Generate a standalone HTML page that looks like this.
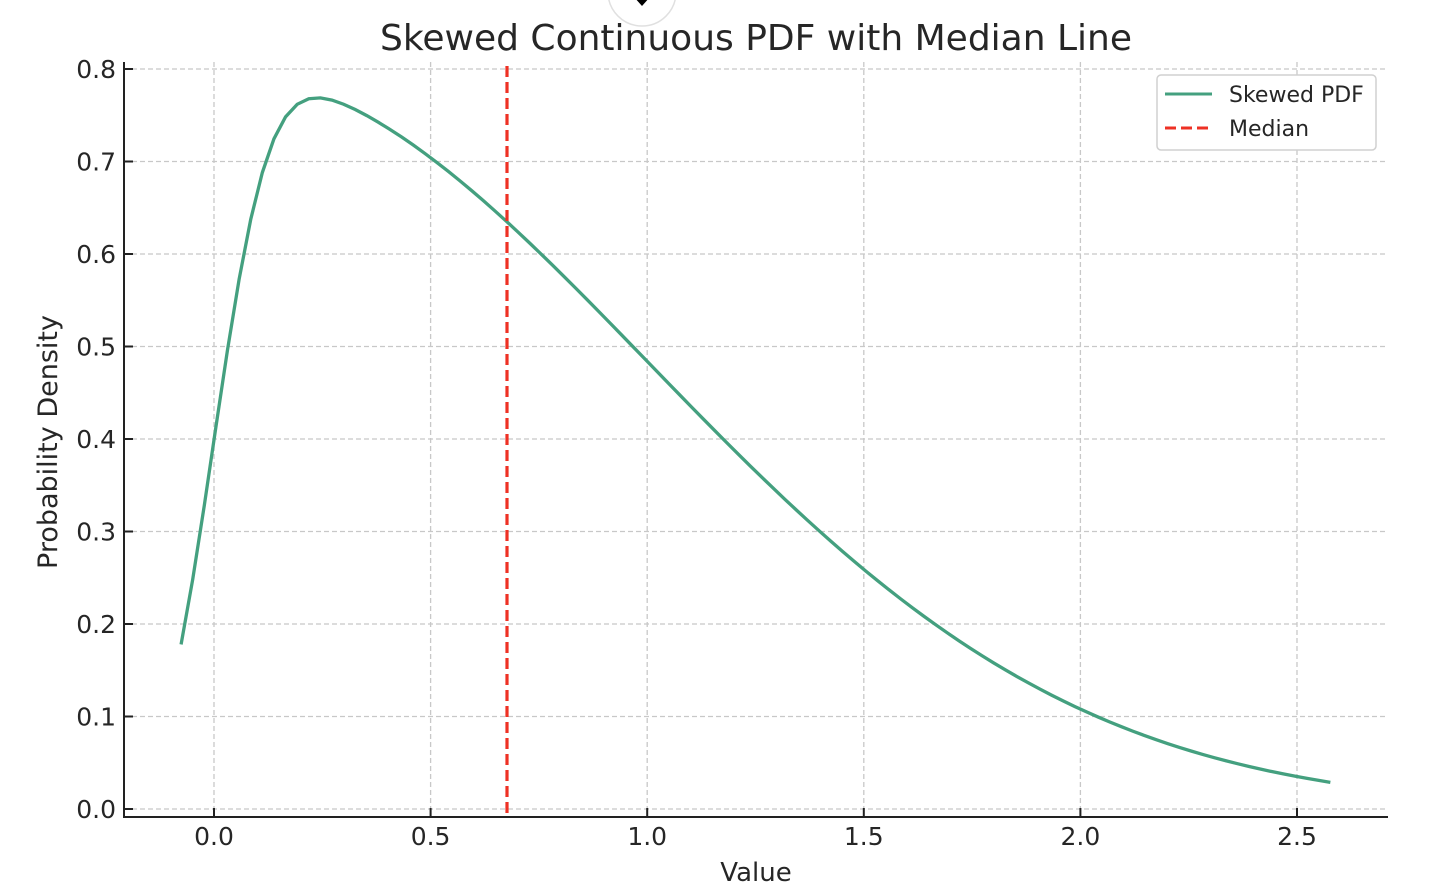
<!DOCTYPE html>
<html><head><meta charset="utf-8"><style>
html,body{margin:0;padding:0;background:#fff;}
svg text{font-family:"DejaVu Sans","Liberation Sans",sans-serif;fill:#262626;}
</style></head><body>
<svg id="s" width="1430" height="884" xmlns="http://www.w3.org/2000/svg">
<rect width="1430" height="884" fill="#fff"/>
<g id="grid" stroke="#c8c8c8" stroke-width="1.3" stroke-dasharray="5,3"></g>
<circle cx="642" cy="-8" r="34" fill="#fff" stroke="#e0e0e0" stroke-width="1.5"/>
<path d="M634,-6 L642,3 L650,-6 M642,3 L642,-12" stroke="#000" stroke-width="4" fill="none"/>
<text x="756" y="50" font-size="36" text-anchor="middle">Skewed Continuous PDF with Median Line</text>
<path id="curve" fill="none" stroke="#44a07f" stroke-width="3.3"/>
<line x1="507" y1="66" x2="507" y2="817" stroke="#ee3124" stroke-width="3.2" stroke-dasharray="11,5"/>
<line x1="124" y1="62" x2="124" y2="818" stroke="#222" stroke-width="2"/>
<line x1="123" y1="817" x2="1388" y2="817" stroke="#222" stroke-width="2"/>
<g id="ticks" stroke="#222" stroke-width="2"></g>
<g id="labels" font-size="25"></g>
<text x="756" y="881" font-size="26" text-anchor="middle">Value</text>
<text transform="translate(57,442) rotate(-90)" font-size="27" text-anchor="middle">Probability Density</text>
<rect x="1157" y="75" width="219" height="75" rx="4" fill="#fff" stroke="#d0d0d0" stroke-width="1.5"/>
<line x1="1165" y1="94" x2="1212" y2="94" stroke="#44a07f" stroke-width="3"/>
<line x1="1165" y1="128" x2="1212" y2="128" stroke="#ee3124" stroke-width="3" stroke-dasharray="11,5"/>
<text x="1229" y="102" font-size="22">Skewed PDF</text>
<text x="1229" y="136" font-size="22">Median</text>
</svg>
<script>
var NS="http://www.w3.org/2000/svg";
function X(v){return 214+433.2*v;} function Y(v){return 809-925*v;}
function el(p,t,a,txt){var e=document.createElementNS(NS,t);for(var k in a)e.setAttribute(k,a[k]);if(txt!=null)e.textContent=txt;document.getElementById(p).appendChild(e);}
for(var i=0;i<=8;i++){var y=Y(i/10);el("grid","line",{x1:124,x2:1388,y1:y,y2:y});el("ticks","line",{x1:124,x2:133,y1:y,y2:y});
el("labels","text",{x:116,y:y+9,"text-anchor":"end"},(i/10).toFixed(1));}
for(var i=0;i<=5;i++){var x=X(i/2);el("grid","line",{x1:x,x2:x,y1:62,y2:817});el("ticks","line",{x1:x,x2:x,y1:808,y2:817});
el("labels","text",{x:x,y:845,"text-anchor":"middle"},(i/2).toFixed(1));}
function erf(x){var s=x<0?-1:1;x=Math.abs(x);var t=1/(1+0.3275911*x);var y=1-(((((1.061405429*t-1.453152027)*t)+1.421413741)*t-0.284496736)*t+0.254829592)*t*Math.exp(-x*x);return s*y;}
function pdf(x){return 2*Math.exp(-x*x/2)/Math.sqrt(2*Math.PI)*0.5*(1+erf(10*x/Math.SQRT2));}
var d="",a=-0.076,b=2.577,n=100;
for(var i=0;i<n;i++){var x=a+(b-a)*i/(n-1);d+=(i?"L":"M")+X(x).toFixed(2)+","+Y(pdf(x)).toFixed(2);}
document.getElementById("curve").setAttribute("d",d);
</script>
</body></html>
